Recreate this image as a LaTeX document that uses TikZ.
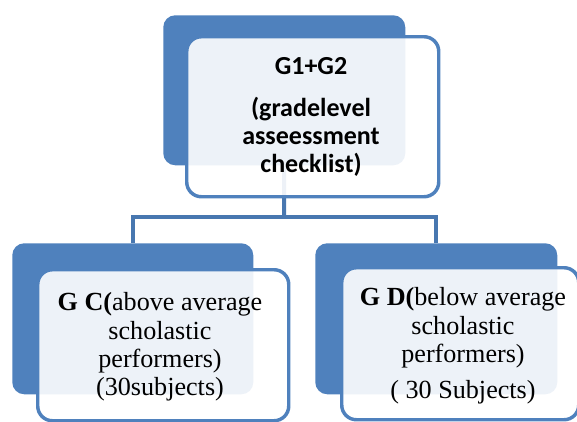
\documentclass[tikz,border=0pt]{standalone}
\usepackage{fontspec}
\newfontfamily\serf{Liberation Serif}
\newfontfamily\calib{Carlito}
\definecolor{accent}{HTML}{4F81BD}
\definecolor{accentdk}{HTML}{4877B0}
\begin{document}
\begin{tikzpicture}[x=0.75pt,y=-0.75pt,
  back/.style={fill=accent, rounded corners=9pt, inner sep=0pt, anchor=north west},
  front/.style={draw=accent, line width=2.6pt, fill=white, fill opacity=0.9, rounded corners=11pt, inner sep=0pt, anchor=north west},
  conn/.style={draw=accentdk, line width=3pt},
  toptext/.style={align=center, font=\calib\bfseries\fontsize{19.5}{21}\selectfont, inner sep=0pt},
  bottext/.style={align=center, font=\serf\fontsize{19.6}{21.2}\selectfont, inner sep=0pt}]
\useasboundingbox (0,0) rectangle (577,421);
% back boxes
\node[back, minimum width=181.5pt, minimum height=112.5pt] (tb) at (163,15) {};
\node[back, minimum width=180.75pt, minimum height=113.25pt] (lb) at (12,243) {};
\node[back, minimum width=181.5pt, minimum height=113.25pt] (rb) at (315,243) {};
% connectors
\coordinate (j) at (284,217);
\draw[conn] (tb.south) -- (j);
\draw[conn] (j) -| (lb.north);
\draw[conn] (j) -| (rb.north);
% front boxes
\node[front, minimum width=189pt, minimum height=120pt] (tf) at (185,35) {};
\node[front, minimum width=188.25pt, minimum height=113.25pt] (lf) at (36,268) {};
\node[front, minimum width=177.75pt, minimum height=114pt] (rf) at (340,266) {};
% texts
\node[toptext] (tt) at (311,117) {G1+G2\\[11pt](gradelevel\\asseessment\\checklist)};
\node[bottext] (lt) at (160,347) {\textbf{G C(}above average\\scholastic\\performers)\\(30subjects)};
\node[bottext] (rt) at (463,346) {\textbf{G D(}below average\\scholastic\\performers)\\[6pt]( 30 Subjects)};
\end{tikzpicture}
\end{document}
